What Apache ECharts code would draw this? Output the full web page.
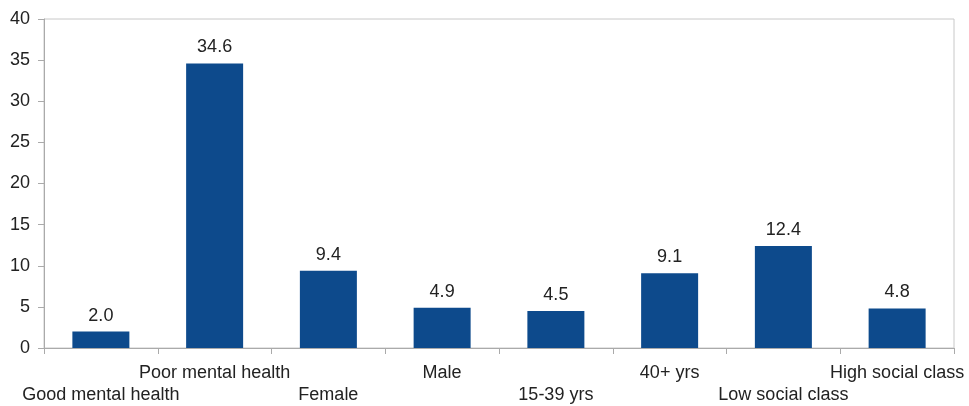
<!DOCTYPE html>
<html>
<head>
<meta charset="utf-8">
<style>
  html, body { margin: 0; padding: 0; background: #fff; }
  #chart { width: 969px; height: 406px; }
</style>
<script src="https://cdn.jsdelivr.net/npm/echarts@6/dist/echarts.min.js"></script>
</head>
<body>
<div id="chart"></div>
<script>
// Share of respondents by group (%)
const categories = [
  'Good mental health', 'Poor mental health', 'Female', 'Male',
  '15-39 yrs', '40+ yrs', 'Low social class', 'High social class'
];
const values = [2.0, 34.6, 9.4, 4.9, 4.5, 9.1, 12.4, 4.8];
const yTicks = [0, 5, 10, 15, 20, 25, 30, 35, 40];

const chart = echarts.init(document.getElementById('chart'), null, { renderer: 'canvas' });

const textColor = '#222';
const fontFamily = 'Liberation Sans, Arial, sans-serif';

chart.setOption({
  animation: false,
  grid: {
    left: 44, right: 15, top: 19, bottom: 58,
    show: true, borderColor: '#c8c8c8', borderWidth: 1, backgroundColor: 'transparent'
  },
  xAxis: {
    type: 'category',
    data: categories,
    axisLine: { lineStyle: { color: '#aaa', width: 1 } },
    axisTick: { show: true, length: 6, lineStyle: { color: '#aaa' } },
    axisLabel: {
      interval: 0,
      hideOverlap: false,
      margin: 14,
      color: textColor,
      fontFamily: fontFamily,
      fontSize: 18,
      lineHeight: 22,
      // alternate labels between two rows
      formatter: (val, idx) => (idx % 2 === 0 ? '\n' + val : val)
    }
  },
  yAxis: {
    type: 'value',
    min: yTicks[0],
    max: yTicks[yTicks.length - 1],
    interval: yTicks[1] - yTicks[0],
    splitLine: { show: false },
    axisLine: { show: true, lineStyle: { color: '#aaa', width: 1 } },
    axisTick: { show: true, length: 6, lineStyle: { color: '#aaa' } },
    axisLabel: {
      margin: 14,
      color: textColor,
      fontFamily: fontFamily,
      fontSize: 18
    }
  },
  series: [{
    type: 'bar',
    data: values,
    barWidth: 57,
    itemStyle: { color: '#0d4a8c' },
    label: {
      show: true,
      position: 'top',
      distance: 7,
      color: textColor,
      fontFamily: fontFamily,
      fontSize: 18,
      formatter: p => p.value.toFixed(1)
    }
  }]
});
</script>
</body>
</html>
